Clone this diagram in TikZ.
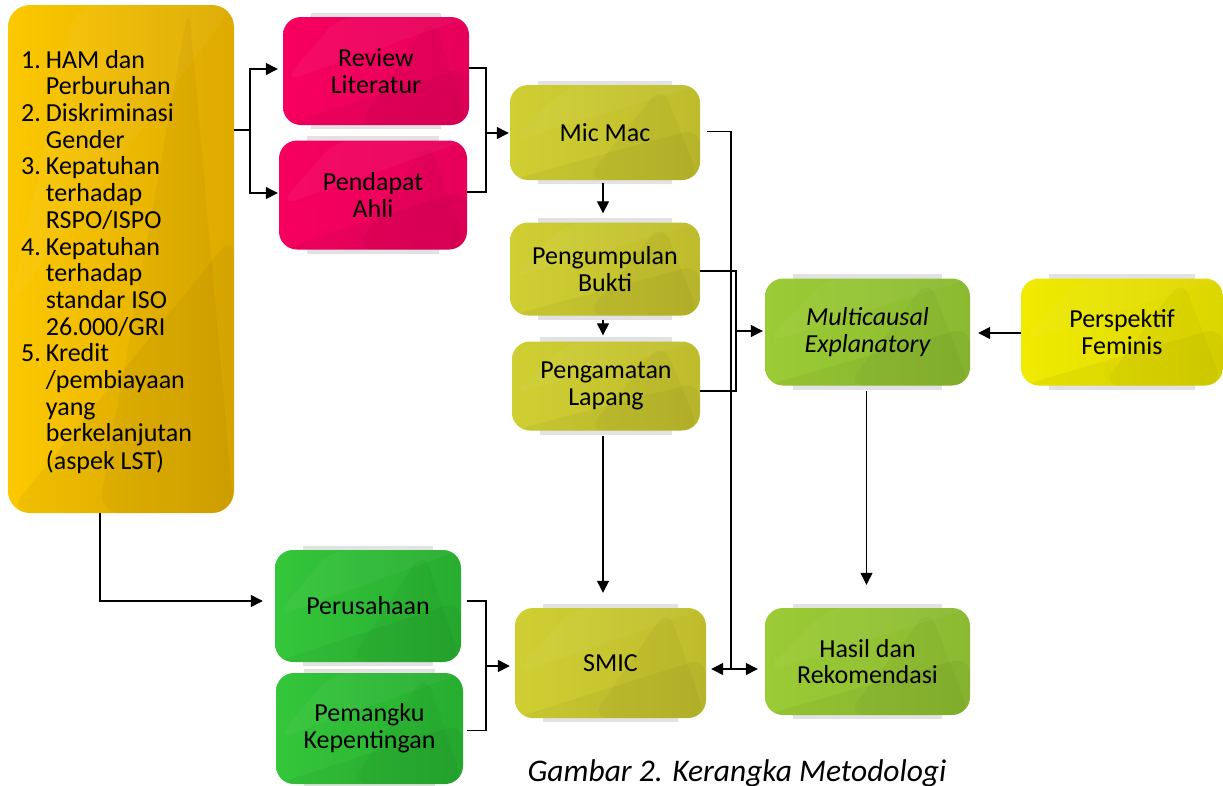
\documentclass[tikz,border=0pt]{standalone}
\usepackage{fontspec}
\setmainfont{Carlito}
\usetikzlibrary{arrows.meta,calc,backgrounds}

\definecolor{goldA}{HTML}{FCC800}
\definecolor{goldB}{HTML}{DDAA00}
\definecolor{pinkA}{HTML}{F7005F}
\definecolor{pinkB}{HTML}{E6005A}
\definecolor{oliveA}{HTML}{CFCF33}
\definecolor{oliveB}{HTML}{BEBC2C}
\definecolor{limeA}{HTML}{9BCB35}
\definecolor{limeB}{HTML}{8BBA31}
\definecolor{yelA}{HTML}{F0EB00}
\definecolor{yelB}{HTML}{DCD600}
\definecolor{grnA}{HTML}{34C63B}
\definecolor{grnB}{HTML}{27AD2F}
\definecolor{strip}{HTML}{E2E2E2}

\tikzset{
  x=1pt, y=-1pt,
  facets/.style={path picture={
      \fill[black,opacity=0.04] (path picture bounding box.south west)
        -- ($(path picture bounding box.north east)!0.45!(path picture bounding box.south east)$)
        -- (path picture bounding box.south east) -- cycle;
      \fill[black,opacity=0.03] ($(path picture bounding box.south west)!0.4!(path picture bounding box.south east)$)
        -- ($(path picture bounding box.north west)!0.8!(path picture bounding box.north east)$)
        -- (path picture bounding box.south east) -- cycle;
      \fill[white,opacity=0.04] ($(path picture bounding box.north west)!0.3!(path picture bounding box.north east)$)
        -- (path picture bounding box.north east)
        -- ($(path picture bounding box.north west)!0.6!(path picture bounding box.south west)$) -- cycle;
  }},
  box/.style={rounded corners=18pt, inner sep=0pt, align=center, text=black,
    font=\fontsize{26}{26.7}\selectfont, facets},
  goldbox/.style={box, left color=goldA, right color=goldB},
  pinkbox/.style={box, left color=pinkA, right color=pinkB},
  olivebox/.style={box, left color=oliveA, right color=oliveB},
  limebox/.style={box, left color=limeA, right color=limeB},
  yelbox/.style={box, left color=yelA, right color=yelB},
  grnbox/.style={box, left color=grnA, right color=grnB},
  ln/.style={draw=black, line width=1.3pt},
  arr/.style={ln, -{Triangle[length=12pt,width=12pt]}},
  darr/.style={ln, {Triangle[length=12pt,width=12pt]}-{Triangle[length=12pt,width=12pt]}},
}

\begin{document}
\begin{tikzpicture}
\useasboundingbox (0,0) rectangle (1223,785);
\clip (0,0) rectangle (1223,785);

% main issue box
\node[goldbox, rounded corners=22pt, minimum width=226pt, minimum height=508pt] (L) at (121,259) {};
\node[anchor=north west, inner sep=0pt, font=\fontsize{26}{26.7}\selectfont] (Ltext) at (21,49.3) {%
  \begin{tabular}{@{}l@{\hspace{5pt}}l@{}}
  1. & HAM dan\\
     & Perburuhan\\
  2. & Diskriminasi\\
     & Gender\\
  3. & Kepatuhan\\
     & terhadap\\
     & RSPO/ISPO\\
  4. & Kepatuhan\\
     & terhadap\\
     & standar ISO\\
     & 26.000/GRI\\
  5. & Kredit\\
     & /pembiayaan\\
     & yang\\
     & berkelanjutan\\
     & (aspek LST)
  \end{tabular}};

% method boxes
\node[pinkbox, minimum width=186pt, minimum height=108pt] (rev) at (376,71) {Review\\Literatur};
\node[pinkbox, minimum width=188pt, minimum height=109pt] (pen) at (373,195) {Pendapat\\Ahli};
\node[olivebox, minimum width=190pt, minimum height=95pt] (mic) at (605,132.5) {Mic Mac};
\node[olivebox, minimum width=190pt, minimum height=93pt] (pgb) at (605,269) {Pengumpulan\\Bukti};
\node[olivebox, minimum width=188pt, minimum height=89pt] (pgl) at (606,386) {Pengamatan\\Lapang};
\node[limebox, minimum width=205pt, minimum height=107pt] (mul) at (867.5,332) {\itshape Multicausal\\\itshape Explanatory};
\node[yelbox, minimum width=202pt, minimum height=107pt] (per) at (1122,332) {Perspektif\\Feminis};
\node[grnbox, minimum width=186pt, minimum height=112pt] (prs) at (368,606) {Perusahaan};
\node[grnbox, minimum width=187pt, minimum height=111pt] (pmk) at (369.5,728.5) {Pemangku\\Kepentingan};
\node[olivebox, minimum width=191pt, minimum height=110pt] (smic) at (610.5,663) {SMIC};
\node[limebox, minimum width=205pt, minimum height=107pt] (has) at (867.5,661.5) {Hasil dan\\Rekomendasi};

% soft strips behind the boxes
\begin{scope}[on background layer]
  \foreach \n in {rev,pen,mic,pgb,pgl,mul,per,prs,pmk,smic,has}
    \fill[strip] ([xshift=28pt,yshift=4pt]\n.north west) rectangle ([xshift=-28pt,yshift=-4pt]\n.south east);
\end{scope}

% connectors
\coordinate (j1) at (250,130);
\draw[ln] (L.east|-j1) -- (j1);
\draw[arr] (j1) |- ([xshift=-5pt,yshift=2pt]rev.west);
\draw[arr] (j1) |- ([xshift=-1pt,yshift=2pt]pen.west);

\coordinate (j2) at (486,133);
\draw[ln] ([yshift=3pt]rev.east) -| (j2) |- ([yshift=3pt]pen.east);
\draw[arr] (j2) -- ([xshift=-1pt]mic.west|-j2);

\draw[arr] ([xshift=-2pt,yshift=-3pt]mic.south) -- ([xshift=-2pt,yshift=9pt]pgb.north);
\draw[arr] ([xshift=-2pt,yshift=-4pt]pgb.south) -- ([xshift=-3pt,yshift=6pt]pgl.north);

\coordinate (j3) at (731,669);
\draw[ln] ([xshift=7pt,yshift=1pt]mic.east) -| (j3);
\draw[darr] ([xshift=5pt]smic.east|-j3) -- ([xshift=-7pt]has.west|-j3);

\coordinate (j4) at (736,331);
\draw[ln] ([yshift=-2pt]pgb.east) -| (j4) |- ([yshift=-5pt]pgl.east);
\draw[arr] (j4) -- ([xshift=-2pt]mul.west|-j4);

\draw[arr] ([xshift=-3pt,yshift=-5pt]pgl.south) -- ([xshift=-3pt,yshift=15pt]pgl.south|-smic.north);
\draw[arr] ([xshift=-1pt,yshift=-5pt]mul.south) -- ([xshift=-1pt,yshift=23pt]mul.south|-has.north);
\draw[arr] ([yshift=-1pt]per.west) -- ([xshift=8pt,yshift=-1pt]mul.east);

\coordinate (j5) at (100,601);
\draw[arr] (L.south-|j5) |- ([xshift=-12pt]prs.west|-j5);

\coordinate (j6) at (486,666);
\draw[ln] ([xshift=6pt,yshift=5pt]prs.east) -| (j6) |- ([xshift=4pt,yshift=-2pt]pmk.east);
\draw[arr] (j6) -- ([xshift=-5pt]smic.west|-j6);

% caption
\node[anchor=base, inner sep=0pt, font=\fontsize{31.5}{36}\selectfont\itshape] (cap) at (737,781) {Gambar 2. Kerangka Metodologi};
\end{tikzpicture}
\end{document}
